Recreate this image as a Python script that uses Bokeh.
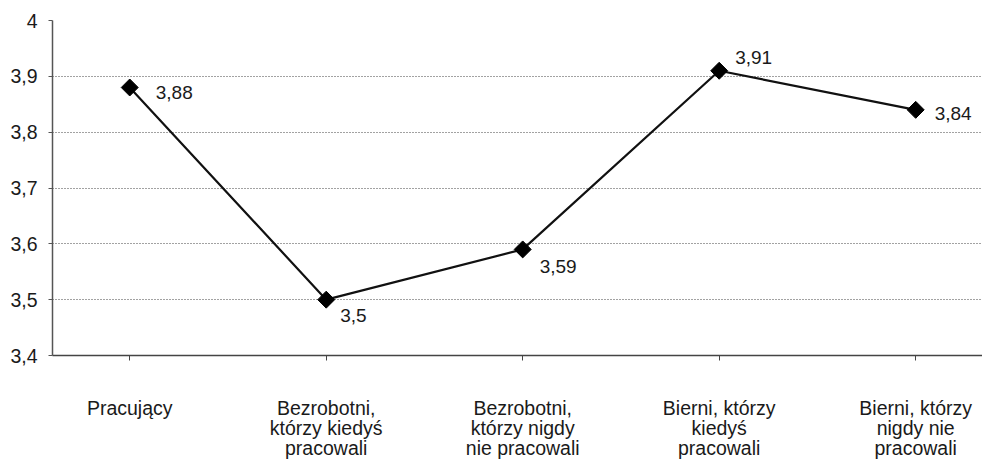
import math
from bokeh.plotting import figure
from bokeh.models import (ColumnDataSource, Range1d, FixedTicker, CustomJSTickFormatter, LabelSet)
from bokeh.core.properties import value
from bokeh.embed import file_html
from bokeh.resources import INLINE

# ---- data ----
categories = [
    "Pracujący",
    "Bezrobotni,\nktórzy kiedyś\npracowali",
    "Bezrobotni,\nktórzy nigdy\nnie pracowali",
    "Bierni, którzy\nkiedyś\npracowali",
    "Bierni, którzy\nnigdy nie\npracowali",
]
values = [3.88, 3.50, 3.59, 3.91, 3.84]
value_labels = ["3,88", "3,5", "3,59", "3,91", "3,84"]
y_ticks = [3.4, 3.5, 3.6, 3.7, 3.8, 3.9, 4.0]
y_tick_labels = ["3,4", "3,5", "3,6", "3,7", "3,8", "3,9", "4"]

# ---- styling (label offsets in screen px) ----
label_dx = [26, 14, 17, 16, 19]
label_dy = [-5, -16, -17, 13, -4]

FONT = "Liberation Sans"
FS = "19.5px"

xs = list(range(len(categories)))
src = ColumnDataSource(dict(x=xs, y=values, lab=value_labels, dx=label_dx, dy=label_dy))

p = figure(width=982, height=461, output_backend="svg", toolbar_location=None,
           x_range=Range1d(-0.393, 4.340), y_range=Range1d(3.4, 4.0),
           min_border_left=52, min_border_right=0, min_border_top=20, min_border_bottom=104)
p.outline_line_color = None
p.background_fill_color = "white"
p.border_fill_color = "white"

# grid
p.xgrid.grid_line_color = None
p.ygrid.ticker = FixedTicker(ticks=y_ticks)
p.ygrid.grid_line_color = "#444444"
p.ygrid.grid_line_dash = "1 2"
p.ygrid.grid_line_width = 1

# y axis
p.yaxis.ticker = FixedTicker(ticks=y_ticks)
p.yaxis.formatter = CustomJSTickFormatter(args=dict(tvals=y_ticks, tlabels=y_tick_labels), code="""
const i = tvals.findIndex(t => Math.abs(t - tick) < 1e-9);
return i >= 0 ? tlabels[i] : '';
""")
p.yaxis.axis_line_color = "#555555"
p.yaxis.axis_line_width = 1.5
p.yaxis.major_tick_line_color = "#555555"
p.yaxis.major_tick_out = 4
p.yaxis.major_tick_in = 0
p.yaxis.minor_tick_line_color = None
p.yaxis.major_label_standoff = 11
p.yaxis.major_label_text_font = FONT
p.yaxis.major_label_text_font_size = FS
p.yaxis.major_label_text_color = "#1a1a1a"

# x axis
p.xaxis.ticker = FixedTicker(ticks=xs)
p.xaxis.formatter = CustomJSTickFormatter(args=dict(cats=categories), code="""
const i = Math.round(tick);
return (i >= 0 && i < cats.length) ? cats[i] : '';
""")
p.xaxis.axis_line_color = "#444444"
p.xaxis.axis_line_width = 1.5
p.xaxis.major_tick_line_color = "#444444"
p.xaxis.major_tick_out = 5
p.xaxis.major_tick_in = 0
p.xaxis.minor_tick_line_color = None
p.xaxis.major_label_standoff = 36
p.xaxis.major_label_text_font = FONT
p.xaxis.major_label_text_font_size = FS
p.xaxis.major_label_text_color = "#1a1a1a"
p.xaxis.major_label_text_line_height = 0.92

# line + markers
p.line("x", "y", source=src, line_color="#111111", line_width=2.2)
p.scatter("x", "y", source=src, marker="square", size=12, angle=math.pi / 4,
          fill_color="black", line_color="black")

labels = LabelSet(x="x", y="y", text="lab", source=src, x_offset="dx", y_offset="dy",
                  text_font=value(FONT), text_font_size="19px", text_color="#1a1a1a",
                  text_align="left", text_baseline="middle")
p.add_layout(labels)

open("out.html", "w").write(file_html(p, INLINE))
